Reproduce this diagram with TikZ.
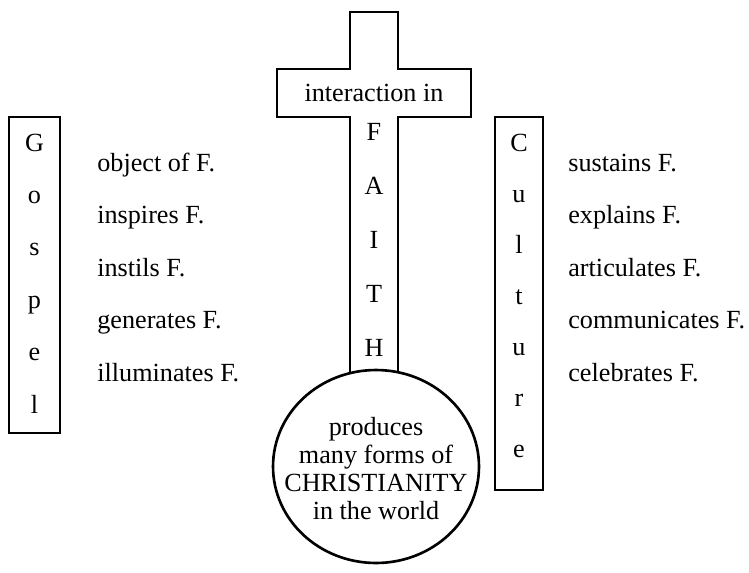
\documentclass[tikz,border=0pt]{standalone}
\usepackage{fontspec}
\setmainfont{Liberation Serif}
\usetikzlibrary{positioning}

\begin{document}
\begin{tikzpicture}[
  x=0.02cm, y=-0.02cm,
  font=\fontsize{14.9}{17}\selectfont,
  outline/.style={line width=1.5pt, line join=miter},
  letter/.style={anchor=base, inner sep=0pt},
  verb/.style={anchor=base west, inner sep=0pt},
  column/.style={draw, outline, inner sep=0pt},
]
\useasboundingbox (0,0) rectangle (749,572);
% --- the cross, standing on the world ---
\coordinate (world) at (376,466.5);
\draw[outline] (350,373) |- (277,117) |- (350,69) |- (398,12)
  |- (471,69) |- (398,117) -- (398,373);
\draw[outline] (world) ellipse [x radius=2.06cm, y radius=1.93cm];
\node[letter] (bar) at (374,101) {interaction in};
\foreach \ch [count=\i from 0] in {F,A,I,T,H}
  \node[letter] (faith\i) at (374,{140.5+54*\i}) {\ch};
\node[align=center, inner sep=0pt, font=\fontsize{14.9}{15.9}\selectfont]
  (worldtext) at (376,468.5)
  {produces\\many forms of\\CHRISTIANITY\\in the world};

% --- Gospel column ---
\node[column, minimum width=1.02cm, minimum height=6.32cm] (gospel) at (34.5,275) {};
\foreach \ch [count=\i from 0] in {G,o,s,p,e,l}
  \node[letter] (gos\i) at (34.5,{151+52.4*\i}) {\ch};
\foreach \t [count=\i from 0] in {object of F.,inspires F.,instils F.,generates F.,illuminates F.}
  \node[verb] (gverb\i) at (97,{171+52.5*\i}) {\t};

% --- Culture column ---
\node[column, minimum width=0.96cm, minimum height=7.46cm] (culture) at (519,303.5) {};
\foreach \ch [count=\i from 0] in {C,u,l,t,u,r,e}
  \node[letter] (cul\i) at (519,{151+51*\i}) {\ch};
\foreach \t [count=\i from 0] in {sustains F.,explains F.,articulates F.,communicates F.,celebrates F.}
  \node[verb] (cverb\i) at (568,{171+52.5*\i}) {\t};
\end{tikzpicture}
\end{document}
